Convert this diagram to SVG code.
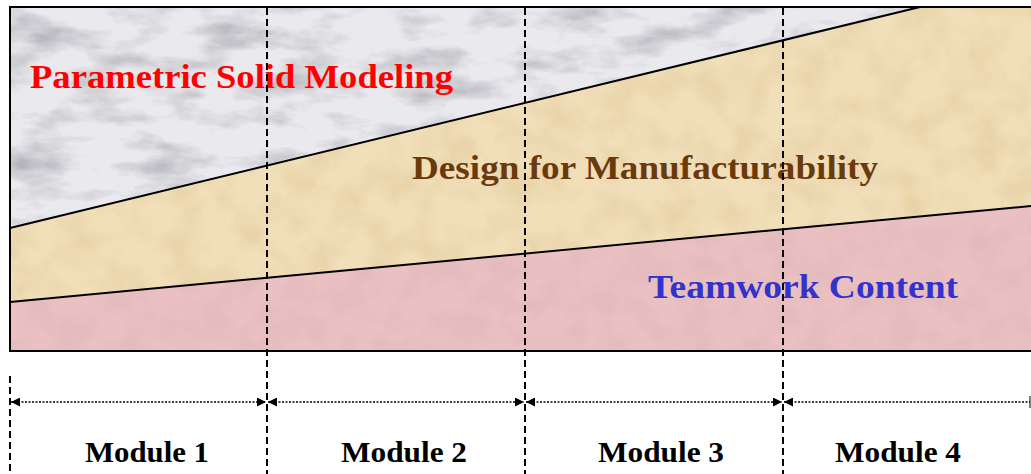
<svg xmlns="http://www.w3.org/2000/svg" width="1031" height="474" viewBox="0 0 1031 474">
  <style>
    .band-title { font-family: "Liberation Serif", "Times New Roman", serif; font-weight: bold; font-size: 34px; }
    .module { font-family: "Liberation Serif", "Times New Roman", serif; font-weight: bold; font-size: 30px; fill: #000; text-anchor: middle; }
    .edge { fill: none; stroke: #000; stroke-width: 2; }
    .divider { fill: none; stroke: #000; stroke-width: 2; stroke-dasharray: 7 4; }
    .span { fill: none; stroke: #000; stroke-width: 1.3; stroke-dasharray: 2 1.5; }
  </style>
  <defs>
    <!-- stone texture for the top band -->
    <filter id="marble" x="0" y="0" width="100%" height="100%" color-interpolation-filters="sRGB">
      <feTurbulence type="fractalNoise" baseFrequency="0.015 0.04" numOctaves="5" seed="3" result="n"/>
      <feColorMatrix in="n" type="matrix" values="0 0 0 0 0.55  0 0 0 0 0.55  0 0 0 0 0.58  1.3 0 0 0 -0.6" result="veins"/>
      <feComposite in="veins" in2="SourceGraphic" operator="in" result="v"/>
      <feMerge><feMergeNode in="SourceGraphic"/><feMergeNode in="v"/></feMerge>
    </filter>
    <!-- paper grain for the middle band -->
    <filter id="parchment" x="0" y="0" width="100%" height="100%" color-interpolation-filters="sRGB">
      <feTurbulence type="fractalNoise" baseFrequency="0.03" numOctaves="4" seed="7" result="n"/>
      <feColorMatrix in="n" type="matrix" values="0 0 0 0 0.85  0 0 0 0 0.74  0 0 0 0 0.52  0.8 0 0 0 -0.32" result="spots"/>
      <feComposite in="spots" in2="SourceGraphic" operator="in" result="s"/>
      <feMerge><feMergeNode in="SourceGraphic"/><feMergeNode in="s"/></feMerge>
    </filter>
    <!-- soft mottling for the bottom band -->
    <filter id="rose" x="0" y="0" width="100%" height="100%" color-interpolation-filters="sRGB">
      <feTurbulence type="fractalNoise" baseFrequency="0.035" numOctaves="4" seed="11" result="n"/>
      <feColorMatrix in="n" type="matrix" values="0 0 0 0 0.84  0 0 0 0 0.68  0 0 0 0 0.70  0.8 0 0 0 -0.32" result="spots"/>
      <feComposite in="spots" in2="SourceGraphic" operator="in" result="s"/>
      <feMerge><feMergeNode in="SourceGraphic"/><feMergeNode in="s"/></feMerge>
    </filter>
    <marker id="head" viewBox="0 0 10 10" refX="10" refY="5" markerWidth="9" markerHeight="9" markerUnits="userSpaceOnUse" orient="auto-start-reverse">
      <path d="M0,0 L10,5 L0,10 Z" fill="#000"/>
    </marker>
  </defs>

  <rect width="1031" height="474" fill="#fff"/>

  <g id="parametric-solid-modeling">
    <polygon points="10,7 920,7 10,228" fill="#e9e9ee" filter="url(#marble)"/>
    <text class="band-title" x="30" y="88" fill="#ff0000" textLength="423" lengthAdjust="spacingAndGlyphs">Parametric Solid Modeling</text>
  </g>

  <g id="design-for-manufacturability">
    <polygon points="920,7 1031,7 1031,206 10,302 10,228" fill="#f1dfba" filter="url(#parchment)"/>
    <text class="band-title" x="412" y="179" fill="#6b3a0c" textLength="466" lengthAdjust="spacingAndGlyphs">Design for Manufacturability</text>
  </g>

  <g id="teamwork-content">
    <polygon points="10,302 1031,206 1031,351 10,351" fill="#eac0c2" filter="url(#rose)"/>
    <text class="band-title" x="648" y="298" fill="#3333cc" textLength="310" lengthAdjust="spacingAndGlyphs">Teamwork Content</text>
  </g>

  <g id="frame">
    <line class="edge" x1="10" y1="228" x2="920" y2="7"/>
    <line class="edge" x1="10" y1="302" x2="1031" y2="206"/>
    <path class="edge" d="M1040,7 H10 V351 H1040"/>
  </g>

  <g id="module-1"><text class="module" x="147" y="462" textLength="124" lengthAdjust="spacingAndGlyphs">Module 1</text></g>
  <g id="module-2"><text class="module" x="404" y="462" textLength="126" lengthAdjust="spacingAndGlyphs">Module 2</text></g>
  <g id="module-3"><text class="module" x="661" y="462" textLength="126" lengthAdjust="spacingAndGlyphs">Module 3</text></g>
  <g id="module-4"><text class="module" x="898" y="462" textLength="126" lengthAdjust="spacingAndGlyphs">Module 4</text></g>

  <g id="connectors">
    <line class="divider" x1="10" y1="376" x2="10" y2="474"/>
    <line class="divider" x1="267" y1="8" x2="267" y2="474"/>
    <line class="divider" x1="525" y1="8" x2="525" y2="474"/>
    <line class="divider" x1="783" y1="8" x2="783" y2="474"/>
    <line class="span" x1="11" y1="402" x2="266" y2="402" marker-start="url(#head)" marker-end="url(#head)"/>
    <line class="span" x1="268" y1="402" x2="524" y2="402" marker-start="url(#head)" marker-end="url(#head)"/>
    <line class="span" x1="526" y1="402" x2="782" y2="402" marker-start="url(#head)" marker-end="url(#head)"/>
    <line class="span" x1="784" y1="402" x2="1030" y2="402" marker-start="url(#head)"/>
    <line x1="1030" y1="396" x2="1030" y2="408" stroke="#000" stroke-width="1"/>
  </g>
</svg>
